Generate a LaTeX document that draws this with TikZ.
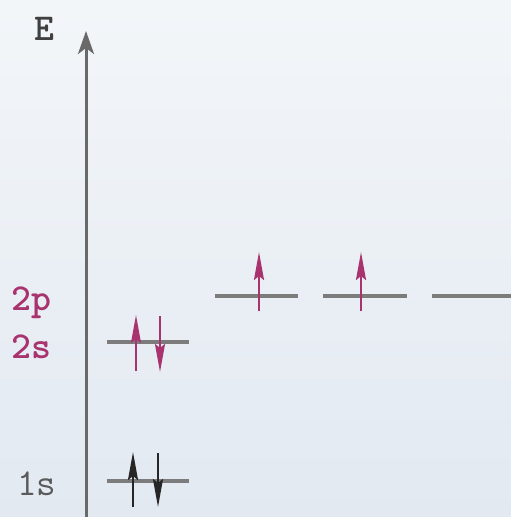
\documentclass[tikz,border=0pt]{standalone}
\usepackage{fontspec}
\newfontfamily\lmbold{lmmonolt10-bold}[Extension=.otf]
\usetikzlibrary{arrows.meta}
\definecolor{bgA}{HTML}{F3F6F9}
\definecolor{bgB}{HTML}{E2E9F1}
\definecolor{lvl}{HTML}{7C7C7C}
\definecolor{mag}{HTML}{A8336E}
\definecolor{lbl}{HTML}{5A5A5A}
\tikzset{
  level/.style={draw=lvl, line width=4pt},
  spinup/.style={-{Stealth[length=28pt,width=10pt,inset=4pt]}, line width=2.4pt},
  orb/.style={font=\lmbold\fontsize{38}{38}\selectfont, inner sep=0pt, anchor=base west},
}
\begin{document}
\begin{tikzpicture}[x=1pt,y=-1pt]
\shade[top color=bgA, bottom color=bgB] (0,0) rectangle (511,517);
\useasboundingbox (0,0) rectangle (511,517);
% axis
\coordinate (ax0) at (86,517);
\coordinate (ax1) at (86,31);
\draw[draw=lvl!85!black, line width=3pt, -{Stealth[length=23pt,width=16pt,inset=6pt]}] (ax0) -- (ax1);
\node[orb, text=black!75] (E) at (34,40) {E};
% labels
\node[orb, text=mag] (l2p) at (11,310) {2p};
\node[orb, text=mag] (l2s) at (11,358) {2s};
\node[orb, text=lbl, font=\ttfamily\fontsize{38}{38}\selectfont] (l1s) at (17,495) {1s};
% levels
\draw[level] (107,342) coordinate (s2a) -- (189,342) coordinate (s2b);
\draw[level] (107,481) coordinate (s1a) -- (189,481) coordinate (s1b);
\draw[level] (215,296) coordinate (pa1) -- (298,296) coordinate (pa2);
\draw[level] (323,296) coordinate (pb1) -- (407,296) coordinate (pb2);
\draw[level] (432,296) coordinate (pc1) -- (513,296) coordinate (pc2);
% electrons
\coordinate (a1) at (136,371); \coordinate (a2) at (136,315);
\coordinate (b1) at (160,316); \coordinate (b2) at (160,372);
\draw[spinup, mag] (a1) -- (a2);
\draw[spinup, mag] (b1) -- (b2);
\coordinate (c1) at (133,507); \coordinate (c2) at (133,452);
\coordinate (d1) at (158,453); \coordinate (d2) at (158,507);
\draw[spinup, black!85] (c1) -- (c2);
\draw[spinup, black!85] (d1) -- (d2);
\coordinate (e1) at (259,311); \coordinate (e2) at (259,252);
\coordinate (f1) at (361,311); \coordinate (f2) at (361,252);
\draw[spinup, mag] (e1) -- (e2);
\draw[spinup, mag] (f1) -- (f2);
\end{tikzpicture}
\end{document}
